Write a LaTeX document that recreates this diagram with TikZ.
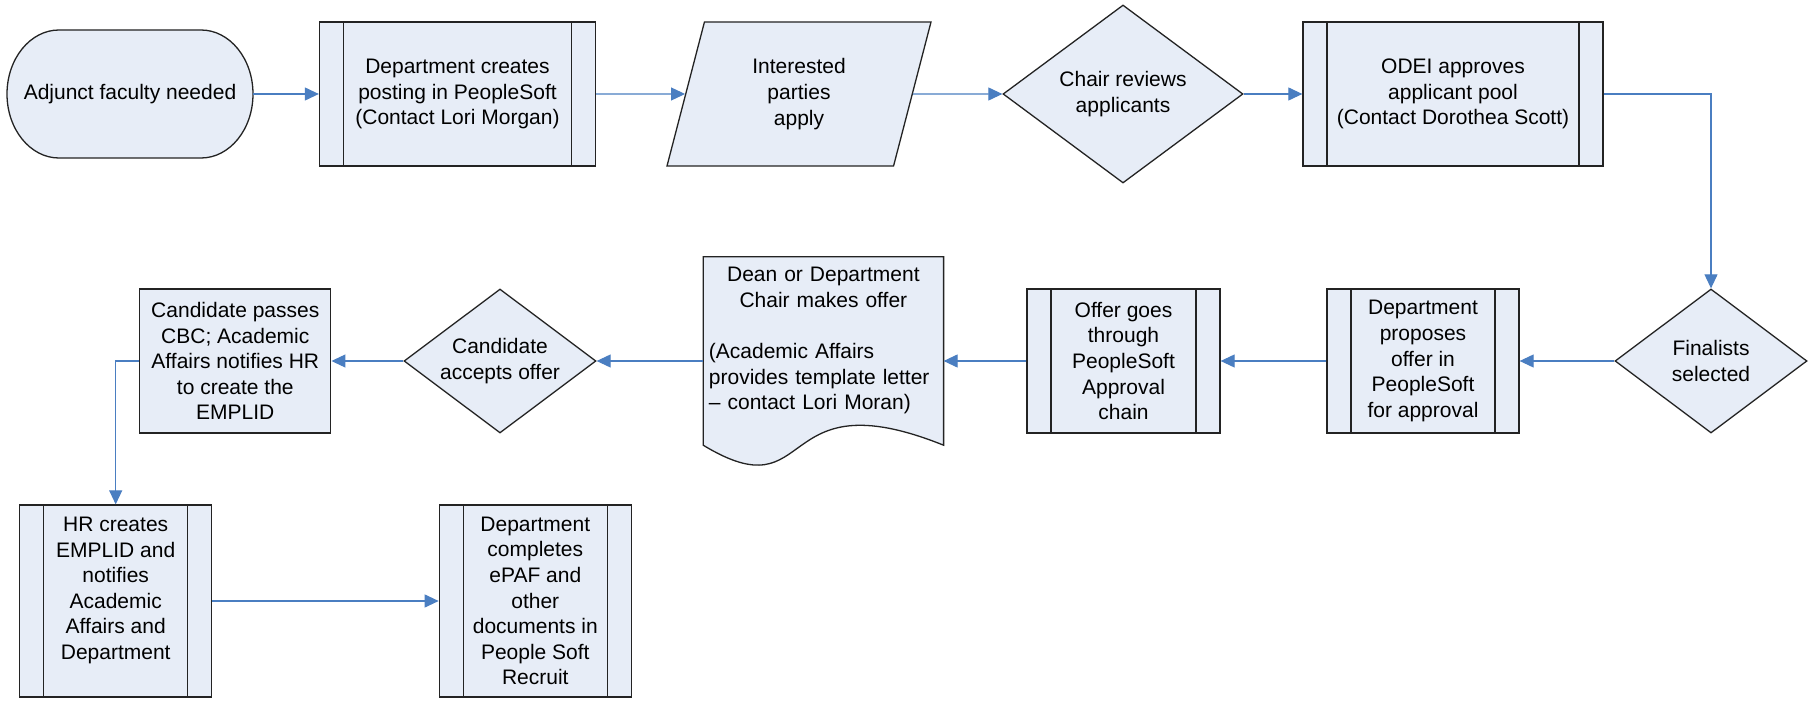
\documentclass[tikz,border=0pt]{standalone}
\usepackage{fontspec}
\setmainfont{Liberation Sans}
\usetikzlibrary{shapes.geometric,arrows.meta,calc}
\definecolor{boxfill}{RGB}{231,237,247}
\definecolor{connblue}{RGB}{74,126,193}
\definecolor{edgecol}{RGB}{35,35,35}
\newcommand\diagfont{\fontsize{21}{25.6}\selectfont}
\begin{document}
\begin{tikzpicture}[x=1pt,y=-1pt,
  shapeline/.style={draw=edgecol, line width=1.3pt, fill=boxfill},
  shapebase/.style={shapeline, font=\diagfont, align=center, inner sep=2pt, text=black},
  procbox/.style={shapebase, rectangle, minimum width=#1, minimum height=144,
     path picture={\draw[edgecol, line width=1.3pt]
        ([xshift=24pt]path picture bounding box.north west) -- ([xshift=24pt]path picture bounding box.south west)
        ([xshift=-24pt]path picture bounding box.north east) -- ([xshift=-24pt]path picture bounding box.south east);}},
  termtext/.style={font=\diagfont, align=center, inner sep=0pt, rectangle, minimum width=246, minimum height=128},
  iobox/.style={shapebase, trapezium, trapezium left angle=63.4, trapezium right angle=116.6,
     trapezium stretches body, minimum width=264, minimum height=144},
  decision/.style={shapebase, diamond, aspect=1.33, inner sep=1pt},
  conn/.style={draw=connblue, line width=1.1pt, -{Triangle[length=14pt,width=13pt]}}
]
\fill[white] (0,0) rectangle (1818,703);
\useasboundingbox (0,0) rectangle (1818,703);

% row 1
\coordinate (termc) at (130,94);
\draw[shapeline] ([xshift=-71pt,yshift=64pt]termc) -- ([xshift=71pt,yshift=64pt]termc)
   arc[start angle=90, end angle=-90, x radius=52pt, y radius=64pt]
   -- ([xshift=-71pt,yshift=-64pt]termc)
   arc[start angle=270, end angle=90, x radius=52pt, y radius=64pt] -- cycle;
\node[termtext] (term) at (termc) {Adjunct faculty needed};
\node[procbox=276] (post) at (457.5,94) {Department creates\\posting in PeopleSoft\\(Contact Lori Morgan)};
\node[iobox] (apply) at (799,94) {Interested\\parties\\apply};
\node[decision, minimum width=240, minimum height=178, aspect=1.35] (chair) at (1123,94) {Chair reviews\\applicants};
\node[procbox=300] (odei) at (1453,94) {ODEI approves\\applicant pool\\(Contact Dorothea Scott)};

% row 2
\node[decision, minimum width=192, minimum height=144] (final) at (1711,361) {Finalists\\selected};
\node[procbox=192] (propose) at (1423,361) {Department\\proposes\\offer in\\PeopleSoft\\for approval};
\node[procbox=193] (chain) at (1123.5,361) {Offer goes\\through\\PeopleSoft\\Approval\\chain};
\node[minimum width=240, minimum height=188, inner sep=0pt] (doc) at (823.4,351) {};
\draw[shapeline] (doc.north west) -- (doc.north east) -- (doc.south east)
   .. controls ([xshift=-172pt,yshift=69pt]doc.south east) and ([xshift=114pt,yshift=-69pt]doc.south west) .. (doc.south west) -- cycle;
\node[font=\diagfont, text width=229pt, inner sep=0pt] (doctext) at (823.4,340.7)
   {\centering Dean or Department\\Chair makes offer\par\mbox{}\par\raggedright (Academic Affairs\\provides template letter\\-- contact Lori Moran)\par};
\node[decision, minimum width=192, minimum height=144] (accept) at (500,361) {Candidate\\accepts offer};
\node[shapebase, rectangle, minimum width=191, minimum height=144] (cbc) at (235.3,361) {Candidate passes\\CBC; Academic\\Affairs notifies HR\\to create the\\EMPLID};

% row 3
\node[procbox=192, minimum height=192] (hr) at (115.7,601) {HR creates\\EMPLID and\\notifies\\Academic\\Affairs and\\Department\\\mbox{}};
\node[procbox=192, minimum height=192] (paf) at (535.3,601) {Department\\completes\\ePAF and\\other\\documents in\\People Soft\\Recruit};

% connectors
\draw[conn] (term.east) -- (post.west);
\draw[conn] (post.east) -- (apply);
\draw[conn] (apply) -- (chair.west);
\draw[conn] (chair.east) -- (odei.west);
\draw[conn] (odei.east) -| (final.north);
\draw[conn] (final.west) -- (propose.east);
\draw[conn] (propose.west) -- (chain.east);
\draw[conn] (chain.west) -- (chain.west -| doc.east);
\draw[conn] (chain.west -| doc.west) -- (accept.east);
\draw[conn] (accept.west) -- (cbc.east);
\draw[conn] (cbc.west) -| (hr.north);
\draw[conn] (hr.east) -- (paf.west);
\end{tikzpicture}
\end{document}
